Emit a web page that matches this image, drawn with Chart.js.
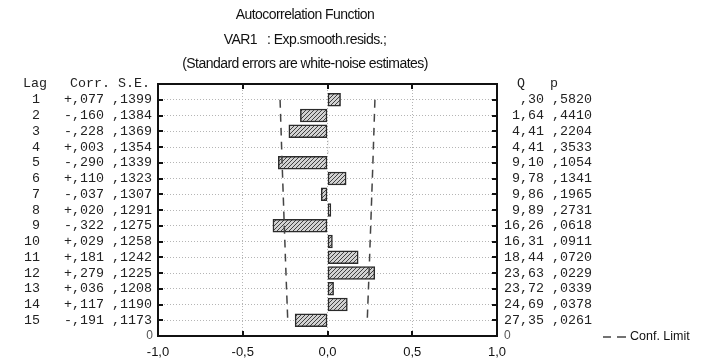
<!DOCTYPE html>
<html>
<head>
<meta charset="utf-8">
<script src="https://cdn.jsdelivr.net/npm/chart.js@4"></script>
<style>
  html, body { margin: 0; padding: 0; background: #fff; }
  #wrap { width: 707px; height: 358px; }
</style>
</head>
<body>
<div id="wrap"><canvas id="acf"></canvas></div>
<script>
// data
const lags = [1, 2, 3, 4, 5, 6, 7, 8, 9, 10, 11, 12, 13, 14, 15];
const corr = [0.077, -0.160, -0.228, 0.003, -0.290, 0.110, -0.037, 0.020, -0.322, 0.029, 0.181, 0.279, 0.036, 0.117, -0.191];
const stdErr = [0.1399, 0.1384, 0.1369, 0.1354, 0.1339, 0.1323, 0.1307, 0.1291, 0.1275, 0.1258, 0.1242, 0.1225, 0.1208, 0.1190, 0.1173];
const qStat = [0.30, 1.64, 4.41, 4.41, 9.10, 9.78, 9.86, 9.89, 16.26, 16.31, 18.44, 23.63, 23.72, 24.69, 27.35];
const pVal = [0.5820, 0.4410, 0.2204, 0.3533, 0.1054, 0.1341, 0.1965, 0.2731, 0.0618, 0.0911, 0.0720, 0.0229, 0.0339, 0.0378, 0.0261];
const xTickLabels = ['-1,0', '-0,5', '0,0', '0,5', '1,0'];
const titleLines = ['Autocorrelation Function', 'VAR1   : Exp.smooth.resids.;', '(Standard errors are white-noise estimates)'];

const upper = stdErr.map(s => 2 * s);
const lower = stdErr.map(s => -2 * s);

// formatting like the statistica table (comma decimals, no leading zero)
function fmtCorr(v) {
  const d = String(Math.round(Math.abs(v) * 1000)).padStart(3, '0');
  return (v < 0 ? '-' : '+') + ',' + d;
}
function fmtFrac(v) { return ',' + String(Math.round(v * 10000)).padStart(4, '0'); }
function fmtQ(v) {
  const s = v.toFixed(2).replace('.', ',');
  return s.startsWith('0,') ? s.slice(1) : s;
}

// hatch pattern for the bars
function hatch() {
  const c = document.createElement('canvas');
  c.width = 4; c.height = 4;
  const g = c.getContext('2d');
  g.fillStyle = '#d2d2d2';
  g.fillRect(0, 0, 4, 4);
  g.strokeStyle = '#404040';
  g.lineWidth = 1;
  g.beginPath();
  g.moveTo(0, 4); g.lineTo(4, 0);
  g.moveTo(-1, 1); g.lineTo(1, -1);
  g.moveTo(3, 5); g.lineTo(5, 3);
  g.stroke();
  return g.createPattern(c, 'repeat');
}

const textPlugin = {
  id: 'acfText',
  afterDraw(chart) {
    const ctx = chart.ctx;
    const xs = chart.scales.x, ys = chart.scales.y;
    const L = Math.round(xs.getPixelForValue(-1));
    const R = Math.round(xs.getPixelForValue(1));
    const T = Math.round(ys.getPixelForValue(0));
    const B = Math.round(ys.getPixelForValue(16));
    ctx.save();
    ctx.setLineDash([]);
    ctx.globalAlpha = 1;

    // frame and inward ticks, as filled rectangles
    ctx.fillStyle = '#111';
    ctx.fillRect(L - 1, T - 1, R - L + 2, 2);
    ctx.fillRect(L - 1, B - 1, R - L + 2, 2);
    ctx.fillRect(L - 1, T - 1, 2, B - T + 2);
    ctx.fillRect(R - 1, T - 1, 2, B - T + 2);
    lags.forEach(l => {
      const y = Math.round(ys.getPixelForValue(l));
      ctx.fillRect(L, y - 1, 5, 2);
      ctx.fillRect(R - 5, y - 1, 5, 2);
    });
    [-0.5, 0, 0.5].forEach(v => {
      const x = Math.round(xs.getPixelForValue(v));
      ctx.fillRect(x - 1, T, 2, 5);
      ctx.fillRect(x - 1, B - 5, 2, 5);
    });

    // titles
    ctx.fillStyle = '#111';
    ctx.textAlign = 'center';
    ctx.textBaseline = 'middle';
    ctx.font = '14px "Liberation Sans", Arial, sans-serif';
    ctx.letterSpacing = '-0.55px';
    [15, 40, 64].forEach((y, i) => ctx.fillText(titleLines[i], 305, y));
    ctx.letterSpacing = '0px';

    // left and right tables
    ctx.font = '13.33px "Liberation Mono", "Courier New", monospace';
    ctx.fillStyle = '#222';
    ctx.textAlign = 'left';
    const headY = 83;
    ctx.fillText('Lag', 23, headY);
    ctx.fillText('Corr. S.E.', 70, headY);
    ctx.fillText('Q', 517, headY);
    ctx.fillText('p', 550, headY);
    ctx.textAlign = 'right';
    lags.forEach((l, i) => {
      const y = ys.getPixelForValue(l);
      ctx.fillText(String(l), 40, y);
      ctx.fillText(fmtCorr(corr[i]) + ' ' + fmtFrac(stdErr[i]), 152, y);
      ctx.fillText(fmtQ(qStat[i]) + ' ' + fmtFrac(pVal[i]), 592, y);
    });

    // the two "0" labels at the bottom of the lag axis
    ctx.font = '12px "Liberation Sans", Arial, sans-serif';
    ctx.fillStyle = '#555';
    ctx.fillText('0', 153, B);
    ctx.textAlign = 'left';
    ctx.fillText('0', 504, B);

    // legend
    ctx.fillStyle = '#111';
    ctx.font = '12.5px "Liberation Sans", Arial, sans-serif';
    ctx.fillText('Conf. Limit', 630, B + 1);
    ctx.strokeStyle = '#444';
    ctx.lineWidth = 1.3;
    ctx.beginPath();
    ctx.moveTo(603, B + 1); ctx.lineTo(611, B + 1);
    ctx.moveTo(617, B + 1); ctx.lineTo(626, B + 1);
    ctx.stroke();
    ctx.restore();
  }
};

function gridColor(inside) {
  return c => (c.tick && inside(c.tick.value) ? '#b5b5b5' : 'rgba(0,0,0,0)');
}

const ctx = document.getElementById('acf').getContext('2d');
const chart = new Chart(ctx, {
  type: 'bar',
  data: {
    datasets: [
      {
        label: 'Corr.',
        data: lags.map((l, i) => ({ x: corr[i], y: l })),
        backgroundColor: hatch(),
        borderColor: '#2b2b2b',
        borderWidth: 1.5,
        borderSkipped: false,
        barThickness: 13,
        order: 2
      },
      {
        type: 'line',
        label: 'Conf. Limit',
        data: lags.map((l, i) => ({ x: upper[i], y: l })),
        borderColor: '#444',
        borderWidth: 1.5,
        borderDash: [8, 6],
        pointRadius: 0,
        tension: 0.3,
        fill: false,
        order: 1
      },
      {
        type: 'line',
        label: 'Conf. Limit',
        data: lags.map((l, i) => ({ x: lower[i], y: l })),
        borderColor: '#444',
        borderWidth: 1.5,
        borderDash: [8, 6],
        pointRadius: 0,
        tension: 0.3,
        fill: false,
        order: 1
      }
    ]
  },
  options: {
    indexAxis: 'y',
    responsive: true,
    maintainAspectRatio: false,
    animation: false,
    layout: { padding: { left: 158, right: 210, top: 84, bottom: 0 } },
    plugins: { legend: { display: false }, title: { display: false }, tooltip: { enabled: false } },
    scales: {
      x: {
        type: 'linear',
        min: -1, max: 1,
        afterFit: s => { s.height = 22; },
        ticks: {
          stepSize: 0.5,
          padding: 9,
          color: '#111',
          font: { family: '"Liberation Sans", Arial, sans-serif', size: 13 },
          callback: (v) => xTickLabels[Math.round((v + 1) * 2)]
        },
        grid: {
          drawTicks: false,
          lineWidth: 1,
          color: gridColor(v => Math.abs(v) < 0.9)
        },
        border: { display: false, dash: [1, 2] }
      },
      y: {
        type: 'linear',
        min: 0, max: 16,
        reverse: true,
        offset: false,
        afterFit: s => { s.width = 0; },
        ticks: { display: false, stepSize: 1 },
        grid: {
          offset: false,
          drawTicks: false,
          lineWidth: 1,
          color: gridColor(v => v > 0 && v < 16)
        },
        border: { display: false, dash: [1, 2] }
      }
    }
  },
  plugins: [textPlugin]
});
</script>
</body>
</html>
